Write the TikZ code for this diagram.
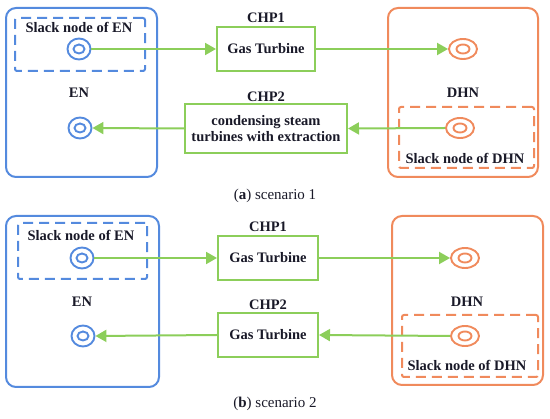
\documentclass[tikz,border=0pt]{standalone}
\usepackage{fontspec}
\setmainfont{Liberation Serif}
\usetikzlibrary{arrows.meta,shapes.geometric}
\definecolor{enblue}{RGB}{84,138,222}
\definecolor{dhorange}{RGB}{240,138,92}
\definecolor{chgreen}{RGB}{140,206,90}
\definecolor{txt}{RGB}{25,25,40}
\begin{document}
\begin{tikzpicture}[x=1pt,y=-1pt,
  every node/.style={text=txt,font=\fontsize{14.5}{16.5}\selectfont\bfseries},
  netbox/.style={draw,line width=2pt,rounded corners=10pt,inner sep=0pt},
  slackbox/.style={draw,line width=2pt,dash pattern=on 10pt off 6pt,rounded corners=2pt,inner sep=0pt},
  chpbox/.style={draw=chgreen,line width=2pt,inner sep=0pt,align=center},
  encirc/.style={ellipse,draw=enblue,line width=1.9pt,minimum width=23pt,minimum height=21pt,inner sep=0pt},
  dhcirc/.style={ellipse,draw=dhorange,line width=1.9pt,minimum width=28pt,minimum height=20pt,inner sep=0pt},
  flow/.style={draw=chgreen,line width=2pt,-{Triangle[length=11pt,width=12pt]}},
  caption/.style={font=\fontsize{15}{17}\selectfont}
]
\useasboundingbox (0,0) rectangle (550,419);
% ---------- scenario 1 ----------
\node[netbox,draw=enblue,minimum width=151pt,minimum height=169pt] (enA) at (81.5,92.5) {};
\node[slackbox,draw=enblue,minimum width=130pt,minimum height=53pt] (enSlackA) at (80,44.5) {};
\node (enSlackTA) at (79,27) {Slack node of EN};
\node (enTA) at (79,93) {EN};
\node[encirc] (e1A) at (79,49) {};
\draw[enblue,line width=1.9pt] (e1A.center) ellipse (5.5pt and 4.5pt);
\node[encirc] (e2A) at (80,128) {};
\draw[enblue,line width=1.9pt] (e2A.center) ellipse (5.5pt and 4.5pt);

\node (chp1TA) at (266,18) {CHP1};
\node[chpbox,minimum width=98pt,minimum height=44pt] (chp1A) at (266,49) {Gas Turbine};
\node (chp2TA) at (266,97) {CHP2};
\node[chpbox,minimum width=162pt,minimum height=49pt] (chp2A) at (266,128.5) {condensing steam\\[-1pt]turbines with extraction};

\node[netbox,draw=dhorange,minimum width=150pt,minimum height=169pt] (dhA) at (463,92.5) {};
\node[slackbox,draw=dhorange,minimum width=135pt,minimum height=61pt] (dhSlackA) at (466.5,137.5) {};
\node (dhTA) at (463,93) {DHN};
\node (dhSlackTA) at (465,158) {Slack node of DHN};
\node[dhcirc] (d1A) at (463,49) {};
\draw[dhorange,line width=1.9pt] (d1A.center) ellipse (6.5pt and 4.5pt);
\node[dhcirc] (d2A) at (460,128) {};
\draw[dhorange,line width=1.9pt] (d2A.center) ellipse (6.5pt and 4.5pt);

\draw[flow] (e1A.east) -- (chp1A.west);
\draw[flow] (chp1A.east) -- (d1A.west);
\draw[flow] (d2A.west) -- (chp2A.east);
\draw[flow] (chp2A.west) -- (e2A.east);

\node[caption] (capA) at (275,196) {(\textbf{a}) scenario 1};

% ---------- scenario 2 ----------
\node[netbox,draw=enblue,minimum width=153pt,minimum height=171pt] (enB) at (82.5,301.5) {};
\node[slackbox,draw=enblue,minimum width=129pt,minimum height=56pt] (enSlackB) at (82.5,251) {};
\node (enSlackTB) at (81,235) {Slack node of EN};
\node (enTB) at (82,302) {EN};
\node[encirc] (e1B) at (82,258) {};
\draw[enblue,line width=1.9pt] (e1B.center) ellipse (5.5pt and 4.5pt);
\node[encirc] (e2B) at (83,336) {};
\draw[enblue,line width=1.9pt] (e2B.center) ellipse (5.5pt and 4.5pt);

\node (chp1TB) at (268,227) {CHP1};
\node[chpbox,minimum width=100pt,minimum height=44pt] (chp1B) at (268,258) {Gas Turbine};
\node (chp2TB) at (268,305) {CHP2};
\node[chpbox,minimum width=100pt,minimum height=44pt] (chp2B) at (268,335) {Gas Turbine};

\node[netbox,draw=dhorange,minimum width=151pt,minimum height=169pt] (dhB) at (467.5,300.5) {};
\node[slackbox,draw=dhorange,minimum width=136pt,minimum height=62pt] (dhSlackB) at (470,346) {};
\node (dhTB) at (467,302) {DHN};
\node (dhSlackTB) at (467,365) {Slack node of DHN};
\node[dhcirc] (d1B) at (465,258) {};
\draw[dhorange,line width=1.9pt] (d1B.center) ellipse (6.5pt and 4.5pt);
\node[dhcirc] (d2B) at (465,336) {};
\draw[dhorange,line width=1.9pt] (d2B.center) ellipse (6.5pt and 4.5pt);

\draw[flow] (e1B.east) -- (chp1B.west);
\draw[flow] (chp1B.east) -- (d1B.west);
\draw[flow] (d2B.west) -- (chp2B.east);
\draw[flow] (chp2B.west) -- (e2B.east);

\node[caption] (capB) at (275,404) {(\textbf{b}) scenario 2};
\end{tikzpicture}
\end{document}
